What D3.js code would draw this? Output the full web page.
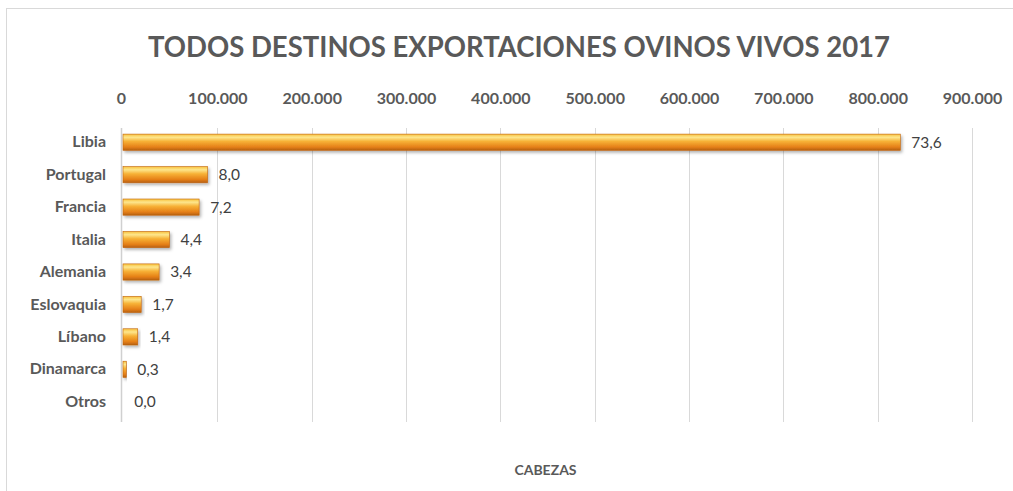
<!DOCTYPE html>
<html>
<head>
<meta charset="utf-8">
<script src="https://cdn.jsdelivr.net/npm/d3@7/dist/d3.min.js"></script>
<style>
  body { margin: 0; background: #fff; }
  text { font-family: Lato, "Open Sans", sans-serif; }
</style>
</head>
<body>
<svg id="canvas" width="1013" height="491"></svg>
<script>
var categories = ["Libia", "Portugal", "Francia", "Italia", "Alemania", "Eslovaquia", "Líbano", "Dinamarca", "Otros"];
var heads = [824000, 89700, 80700, 49300, 38300, 19300, 15600, 3500, 150];
var shares = ["73,6", "8,0", "7,2", "4,4", "3,4", "1,7", "1,4", "0,3", "0,0"];
var tickValues = [0, 100000, 200000, 300000, 400000, 500000, 600000, 700000, 800000, 900000];

var svg = d3.select("#canvas"),
    plotLeft = 123,
    plotRight = 972,
    plotTop = 128,
    plotBottom = 422;

var data = categories.map(function(c, i) {
  return {name: c, value: heads[i], share: shares[i]};
});

var x = d3.scaleLinear().domain([0, 900000]).range([plotLeft, plotRight]);
var y = d3.scaleBand().domain(categories).range([plotTop - 2, plotBottom - 4]).paddingInner(0.5).paddingOuter(0.25);

// chart frame
svg.append("rect")
  .attr("x", 6.5).attr("y", 8.5)
  .attr("width", 1020).attr("height", 500)
  .attr("fill", "none")
  .attr("stroke", "#d9d9d9")
  .attr("stroke-width", 1);

var defs = svg.append("defs");
var grad = defs.append("linearGradient")
  .attr("id", "bar-grad")
  .attr("x1", 0).attr("y1", 0).attr("x2", 0).attr("y2", 1);
grad.append("stop").attr("offset", "0%").attr("stop-color", "#f9c13c");
grad.append("stop").attr("offset", "20%").attr("stop-color", "#fde68c");
grad.append("stop").attr("offset", "45%").attr("stop-color", "#f7b136");
grad.append("stop").attr("offset", "80%").attr("stop-color", "#e57f17");
grad.append("stop").attr("offset", "100%").attr("stop-color", "#b5600f");

var shadow = defs.append("filter")
  .attr("id", "bar-shadow")
  .attr("x", "-10%").attr("y", "-40%")
  .attr("width", "130%").attr("height", "200%");
shadow.append("feDropShadow")
  .attr("dx", 1.5).attr("dy", 2)
  .attr("stdDeviation", 1.5)
  .attr("flood-color", "#000")
  .attr("flood-opacity", 0.3);

// title
svg.append("text")
  .attr("x", 519).attr("y", 57)
  .attr("text-anchor", "middle")
  .attr("font-size", 28)
  .attr("font-weight", "bold")
  .attr("fill", "#595959")
  .attr("textLength", 742)
  .attr("lengthAdjust", "spacingAndGlyphs")
  .text("TODOS DESTINOS EXPORTACIONES OVINOS VIVOS 2017");

// gridlines
svg.append("g")
  .selectAll("line")
  .data(tickValues.slice(1))
  .enter()
  .append("line")
  .attr("x1", function(d) { return Math.round(x(d)) + 0.5; })
  .attr("x2", function(d) { return Math.round(x(d)) + 0.5; })
  .attr("y1", plotTop).attr("y2", plotBottom)
  .attr("stroke", "#d9d9d9");

// category axis line
svg.append("line")
  .attr("x1", plotLeft - 1.5).attr("x2", plotLeft - 1.5)
  .attr("y1", plotTop).attr("y2", plotBottom)
  .attr("stroke", "#d0d0d0")
  .attr("stroke-width", 1.5);

// top value axis
var xAxis = svg.append("g")
  .attr("transform", "translate(0,107)")
  .call(d3.axisTop(x).tickValues(tickValues).tickSize(0).tickFormat(function(d) {
    return d === 0 ? "0" : d3.format(",")(d).replace(/,/g, ".");
  }));
xAxis.select(".domain").remove();
xAxis.selectAll("text")
  .attr("font-size", 16)
  .attr("font-weight", "bold")
  .attr("fill", "#595959")
  .attr("dy", 0);
xAxis.selectAll(".tick").filter(function(d) { return d === 0; })
  .select("text").attr("dx", -2);

// category labels
var yAxis = svg.append("g")
  .attr("transform", "translate(" + (plotLeft - 17) + ",0)")
  .call(d3.axisLeft(y).tickSize(0).tickPadding(0));
yAxis.select(".domain").remove();
yAxis.selectAll("text")
  .attr("font-size", 16)
  .attr("font-weight", "bold")
  .attr("fill", "#595959");

// bars
svg.append("g")
  .selectAll("rect")
  .data(data.filter(function(d) { return x(d.value) - x(0) >= 1; }))
  .enter()
  .append("rect")
  .attr("x", x(0))
  .attr("y", function(d) { return y(d.name); })
  .attr("width", function(d) { return x(d.value) - x(0); })
  .attr("height", y.bandwidth())
  .attr("fill", "url(#bar-grad)")
  .attr("stroke", "#c0640c")
  .attr("stroke-width", 0.6)
  .attr("filter", "url(#bar-shadow)");

// value labels
svg.append("g")
  .selectAll("text")
  .data(data)
  .enter()
  .append("text")
  .attr("x", function(d) { return x(d.value) + 11; })
  .attr("y", function(d) { return y(d.name) + y.bandwidth() / 2; })
  .attr("dy", "0.35em")
  .attr("font-size", 15.5)
  .attr("fill", "#404040")
  .text(function(d) { return d.share; });

// axis title
svg.append("text")
  .attr("x", (plotLeft + plotRight) / 2 - 2).attr("y", 475)
  .attr("text-anchor", "middle")
  .attr("font-size", 14)
  .attr("font-weight", "bold")
  .attr("fill", "#595959")
  .text("CABEZAS");
</script>
</body>
</html>
